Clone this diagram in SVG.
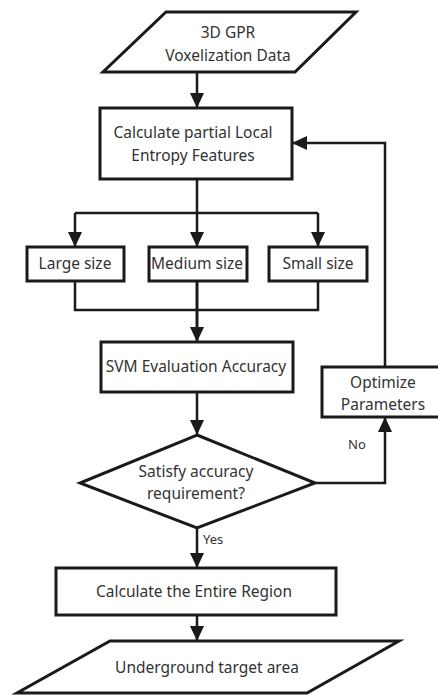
<svg xmlns="http://www.w3.org/2000/svg" width="438" height="695" viewBox="0 0 438 695">
<style>
.shape{fill:#fff;stroke:#1a1a1a;stroke-width:3}
.line{fill:none;stroke:#1a1a1a;stroke-width:2.5}
.t{font-family:"Noto Sans","Open Sans",sans-serif;font-size:15.5px;fill:#333;text-anchor:middle}
.lbl{font-family:"Noto Sans","Open Sans",sans-serif;font-size:13px;fill:#333}
</style>
<defs>
<marker id="arr" markerUnits="userSpaceOnUse" markerWidth="15" markerHeight="14" refX="15" refY="7" orient="auto">
<path d="M0,0 L15,7 L0,14 z" fill="#1a1a1a"/>
</marker>
</defs>
<rect width="438" height="695" fill="#fff"/>
<g id="connectors">
<path class="line" d="M197,72 V108" marker-end="url(#arr)"/>
<path class="line" d="M197,179 V213 M75,213 H318"/>
<path class="line" d="M75,213 V247" marker-end="url(#arr)"/>
<path class="line" d="M197,213 V247" marker-end="url(#arr)"/>
<path class="line" d="M318,213 V247" marker-end="url(#arr)"/>
<path class="line" d="M75,281 V310 H318 V281"/>
<path class="line" d="M197,281 V342" marker-end="url(#arr)" style="stroke-width:3"/>
<path class="line" d="M197,392 V435" marker-end="url(#arr)"/>
<path class="line" d="M315,483 H385 V417" marker-end="url(#arr)"/>
<path class="line" d="M385,367 V143 H292" marker-end="url(#arr)"/>
<path class="line" d="M197,528 V568" marker-end="url(#arr)"/>
<path class="line" d="M197,615 V641" marker-end="url(#arr)"/>
<text class="lbl" x="348" y="449">No</text>
<text class="lbl" x="203" y="544">Yes</text>
</g>
<g id="input">
<polygon class="shape" points="166,12 356,12 295,72 103,72"/>
<text class="t" x="228" y="38">3D GPR</text>
<text class="t" x="228" y="61">Voxelization Data</text>
</g>
<g id="calc-local">
<rect class="shape" x="100" y="108" width="192" height="71"/>
<text class="t" x="193" y="138">Calculate partial Local</text>
<text class="t" x="193" y="161">Entropy Features</text>
</g>
<g id="large">
<rect class="shape" x="27" y="247" width="97" height="34"/>
<text class="t" x="75" y="269">Large size</text>
</g>
<g id="medium">
<rect class="shape" x="149" y="247" width="98" height="34"/>
<text class="t" x="197" y="269">Medium size</text>
</g>
<g id="small">
<rect class="shape" x="269" y="247" width="98" height="34"/>
<text class="t" x="318" y="269">Small size</text>
</g>
<g id="svm">
<rect class="shape" x="101" y="342" width="192" height="50"/>
<text class="t" x="196" y="372">SVM Evaluation Accuracy</text>
</g>
<g id="optimize">
<rect class="shape" x="322" y="367" width="120" height="50"/>
<text class="t" x="383" y="388">Optimize</text>
<text class="t" x="383" y="410">Parameters</text>
</g>
<g id="decision">
<polygon class="shape" points="197,435 315,483 197,528 80,483"/>
<text class="t" x="196" y="477">Satisfy accuracy</text>
<text class="t" x="196" y="499">requirement?</text>
</g>
<g id="calc-entire">
<rect class="shape" x="56" y="568" width="280" height="47"/>
<text class="t" x="194" y="597">Calculate the Entire Region</text>
</g>
<g id="output">
<polygon class="shape" points="110,641 399,641 307,693 17,693"/>
<text class="t" x="207" y="673">Underground target area</text>
</g>
</svg>
